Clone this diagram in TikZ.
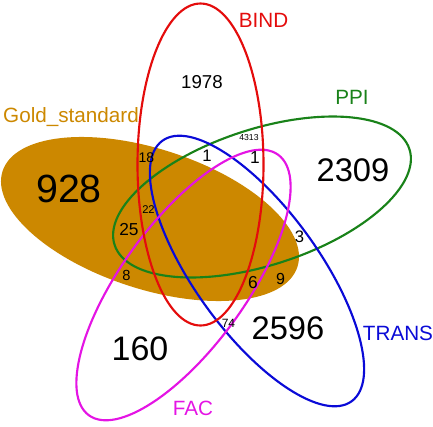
\documentclass[tikz,border=0pt]{standalone}
\usepackage{fontspec}
\setmainfont{Liberation Sans}

\definecolor{goldcol}{RGB}{204,136,0}
\definecolor{bindcol}{RGB}{228,12,12}
\definecolor{ppicol}{RGB}{25,130,25}
\definecolor{transcol}{RGB}{10,10,215}
\definecolor{faccol}{RGB}{228,20,228}

\tikzset{
    vennline/.style={line width=1.6pt},
    cnt/.style={font=\fontsize{#1}{#1}\selectfont, inner sep=0pt},
    setlabel/.style={font=\fontsize{15.5}{15.5}\selectfont, inner sep=0pt}
}

\begin{document}
\begin{tikzpicture}[x=0.75pt, y=0.75pt]

    \useasboundingbox (0,0) rectangle (433,-426);

    %% Five set Venn diagram

    % Centre of each set
    \coordinate (bindc) at (200.5,-164.5);
    \coordinate (goldc) at (150,-219);
    \coordinate (facc) at (183.5,-285);
    \coordinate (transc) at (257,-271);
    \coordinate (ppic) at (262,-197);

    % Gold standard (filled)
    \fill[goldcol, rotate around={162:(goldc)}] (goldc) ellipse (155 and 70);

    % Set outlines
    \draw[vennline, ppicol, rotate around={18:(ppic)}] (ppic) ellipse (155 and 68);
    \draw[vennline, transcol, rotate around={306:(transc)}] (transc) ellipse (161 and 62);
    \draw[vennline, faccol, rotate around={234:(facc)}] (facc) ellipse (161 and 62);
    \draw[vennline, bindcol, rotate around={90:(bindc)}] (bindc) ellipse (161 and 63);

    % Set labels
    \node[setlabel, text=goldcol] (goldlab) at (71,-117) {Gold\_standard};
    \node[setlabel, text=bindcol] (bindlab) at (263.5,-20) {BIND};
    \node[setlabel, text=ppicol] (ppilab) at (352,-97) {PPI};
    \node[setlabel, text=transcol] (translab) at (398,-333) {TRANS};
    \node[setlabel, text=faccol] (faclab) at (193,-408) {FAC};

    % Counts
    \node[cnt=29.5] (n928) at (69,-189) {928};
    \node[cnt=14] (n1978) at (202,-82) {1978};
    \node[cnt=24.5] (n2309) at (353,-170) {2309};
    \node[cnt=24.5] (n2596) at (288,-328) {2596};
    \node[cnt=25.5] (n160) at (140,-349) {160};
    \node[cnt=10.5] (n18) at (146.5,-158) {18};
    \node[cnt=12.5] (n1a) at (207,-156) {1};
    \node[cnt=13] (n1b) at (255,-158) {1};
    \node[cnt=6.5] (n4313) at (249,-138) {4313};
    \node[cnt=8.4] (n22) at (148.5,-210) {22};
    \node[cnt=13] (n25) at (129,-229.5) {25};
    \node[cnt=11] (n8) at (126.5,-275.5) {8};
    \node[cnt=13] (n6) at (253,-283) {6};
    \node[cnt=12] (n9) at (280.5,-278.5) {9};
    \node[cnt=12.5] (n3) at (299.5,-236.5) {3};
    \node[cnt=9] (n74) at (228.5,-323.5) {74};

\end{tikzpicture}
\end{document}
